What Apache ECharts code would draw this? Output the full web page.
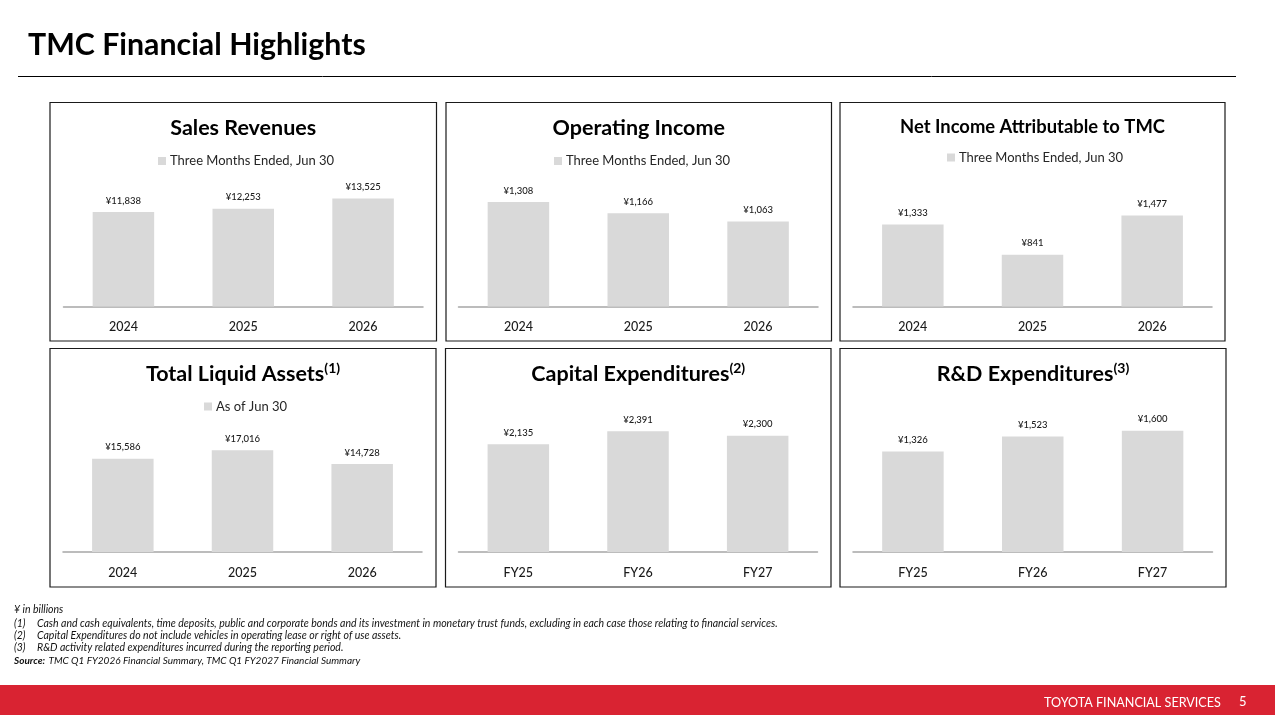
<!DOCTYPE html>
<html><head><meta charset="utf-8">
<style>html,body{margin:0;padding:0;background:#fff}#c{width:1275px;height:715px}</style>
<script src="https://cdn.jsdelivr.net/npm/echarts@6/dist/echarts.min.js"></script>
</head><body><div id="c"></div>
<script>
const pageTitle = 'TMC Financial Highlights';
const brand = 'TOYOTA FINANCIAL SERVICES';
const pageNumber = '5';

const calendarYears = ['2024', '2025', '2026'];
const fiscalYears = ['FY25', 'FY26', 'FY27'];

const salesRevenues = [11838, 12253, 13525];
const operatingIncome = [1308, 1166, 1063];
const netIncome = [1333, 841, 1477];
const liquidAssets = [15586, 17016, 14728];
const capitalExpenditures = [2135, 2391, 2300];
const rdExpenditures = [1326, 1523, 1600];

const quarterLegend = 'Three Months Ended, Jun 30';
const asOfLegend = 'As of Jun 30';

const footnotes = [
  ['¥ in billions', ''],
  ['(1)', 'Cash and cash equivalents, time deposits, public and corporate bonds and its investment in monetary trust funds, excluding in each case those relating to financial services.'],
  ['(2)', 'Capital Expenditures do not include vehicles in operating lease or right of use assets.'],
  ['(3)', 'R&D activity related expenditures incurred during the reporting period.']
];
const sourceNote = 'TMC Q1 FY2026 Financial Summary, TMC Q1 FY2027 Financial Summary';

const FONT = 'Lato, "Noto Sans", sans-serif';
const H = 150;
const panels = [
  {title:'Sales Revenues', sup:'', cats:calendarYears, vals:salesRevenues, max:18790, legend:quarterLegend,
   box:[50,102.5,386.5,238.5], ax:[63.5,423], base:306.5, ty:115.5, ly:154.5, lx:158},
  {title:'Operating Income', sup:'', cats:calendarYears, vals:operatingIncome, max:1878, legend:quarterLegend,
   box:[446,102.5,385.5,238.5], ax:[458.5,818], base:306.5, ty:115.5, ly:154.5, lx:554},
  {title:'Net Income Attributable to TMC', sup:'', cats:calendarYears, vals:netIncome, max:2437, legend:quarterLegend,
   box:[840,102.5,385,238.5], ax:[853,1212], base:306.5, ty:114, ly:151, lx:947, ts:18.4},
  {title:'Total Liquid Assets', sup:'(1)', cats:calendarYears, vals:liquidAssets, max:25100, legend:asOfLegend,
   box:[50,348.5,386,238.5], ax:[63,422], base:552, ty:361, ly:400, lx:204},
  {title:'Capital Expenditures', sup:'(2)', cats:fiscalYears, vals:capitalExpenditures, max:2970, legend:null,
   box:[445.5,348.5,385.5,238.5], ax:[458.5,817.5], base:552, ty:361},
  {title:'R&D Expenditures', sup:'(3)', cats:fiscalYears, vals:rdExpenditures, max:1980, legend:null,
   box:[840,348.5,386,238.5], ax:[853,1212.5], base:552, ty:361}
];

const grid=[], xAxis=[], yAxis=[], series=[], title=[], legend=[];
const graphic=[
  {type:'text',left:28,top:30,style:{text:pageTitle,font:'bold 30.3px '+FONT,fill:'#000'}},
  {type:'line',shape:{x1:18,y1:76.5,x2:1236,y2:76.5},style:{stroke:'#000',lineWidth:1}},
  {type:'rect',shape:{x:0,y:685,width:1275,height:30},style:{fill:'#d92332'}},
  {type:'text',left:1044,top:696,style:{text:brand,font:'12.6px '+FONT,fill:'#fff'}},
  {type:'text',left:1239,top:695,style:{text:pageNumber,font:'13px '+FONT,fill:'#fff'}}
];
panels.forEach((p,i)=>{
  graphic.push({type:'rect',shape:{x:p.box[0],y:p.box[1],width:p.box[2],height:p.box[3]},
    style:{fill:'none',stroke:'#1a1a1a',lineWidth:1.2},z:-1});
  grid.push({left:p.ax[0],width:p.ax[1]-p.ax[0],top:p.base-H,height:H,containLabel:false});
  xAxis.push({type:'category',gridIndex:i,data:p.cats,
    axisLine:{lineStyle:{color:'#a6a6a6',width:1.5}},axisTick:{show:false},
    axisLabel:{margin:14,fontFamily:FONT,fontSize:12.5,fontWeight:500,color:'#1a1a1a'}});
  yAxis.push({type:'value',gridIndex:i,min:0,max:p.max,show:false,splitLine:{show:false}});
  series.push({type:'bar',name:p.legend||p.title,xAxisIndex:i,yAxisIndex:i,data:p.vals,barWidth:61.5,
    itemStyle:{color:'#d9d9d9'},
    label:{show:true,position:'top',distance:6.5,fontFamily:FONT,fontSize:9.5,fontWeight:500,color:'#1a1a1a',
      formatter:o=>'¥'+o.value.toLocaleString('en-US')}});
  title.push({text:p.sup?`{t|${p.title}}{s|${p.sup}}`:`{t|${p.title}}`,
    left:p.box[0]+p.box[2]/2,top:p.ty,textAlign:'center',padding:0,
    textStyle:{rich:{
      t:{fontFamily:FONT,fontWeight:'bold',fontSize:p.ts||21.5,color:'#000',lineHeight:26},
      s:{fontFamily:FONT,fontWeight:'bold',fontSize:14,color:'#000',verticalAlign:'top',lineHeight:26}}}});
  if(p.legend){
    legend.push({data:[p.legend],left:p.lx,top:p.ly,orient:'horizontal',padding:0,
      itemWidth:8,itemHeight:8,itemGap:4,icon:'rect',selectedMode:false,
      textStyle:{fontFamily:FONT,fontSize:13,color:'#262626',padding:[0,0,0,-1]}});
  }
});
footnotes.forEach((f,i)=>{
  const y=[604,618,630,642][i];
  graphic.push({type:'text',left:14,top:y,style:{text:f[0],font:'italic 10.5px '+FONT,fill:'#111'}});
  if(f[1]) graphic.push({type:'text',left:37,top:y,style:{text:f[1],font:'italic 10.5px '+FONT,fill:'#111'}});
});
graphic.push({type:'text',left:14,top:655,style:{
  text:'{b|Source:} {n|'+sourceNote+'}',
  rich:{b:{font:'italic bold 10px '+FONT,fill:'#111'},n:{font:'italic 10px '+FONT,fill:'#111'}}}});

const chart=echarts.init(document.getElementById('c'),null,{renderer:'canvas'});
chart.setOption({animation:false,backgroundColor:'#fff',title,legend,grid,xAxis,yAxis,series,graphic});
</script></body></html>
